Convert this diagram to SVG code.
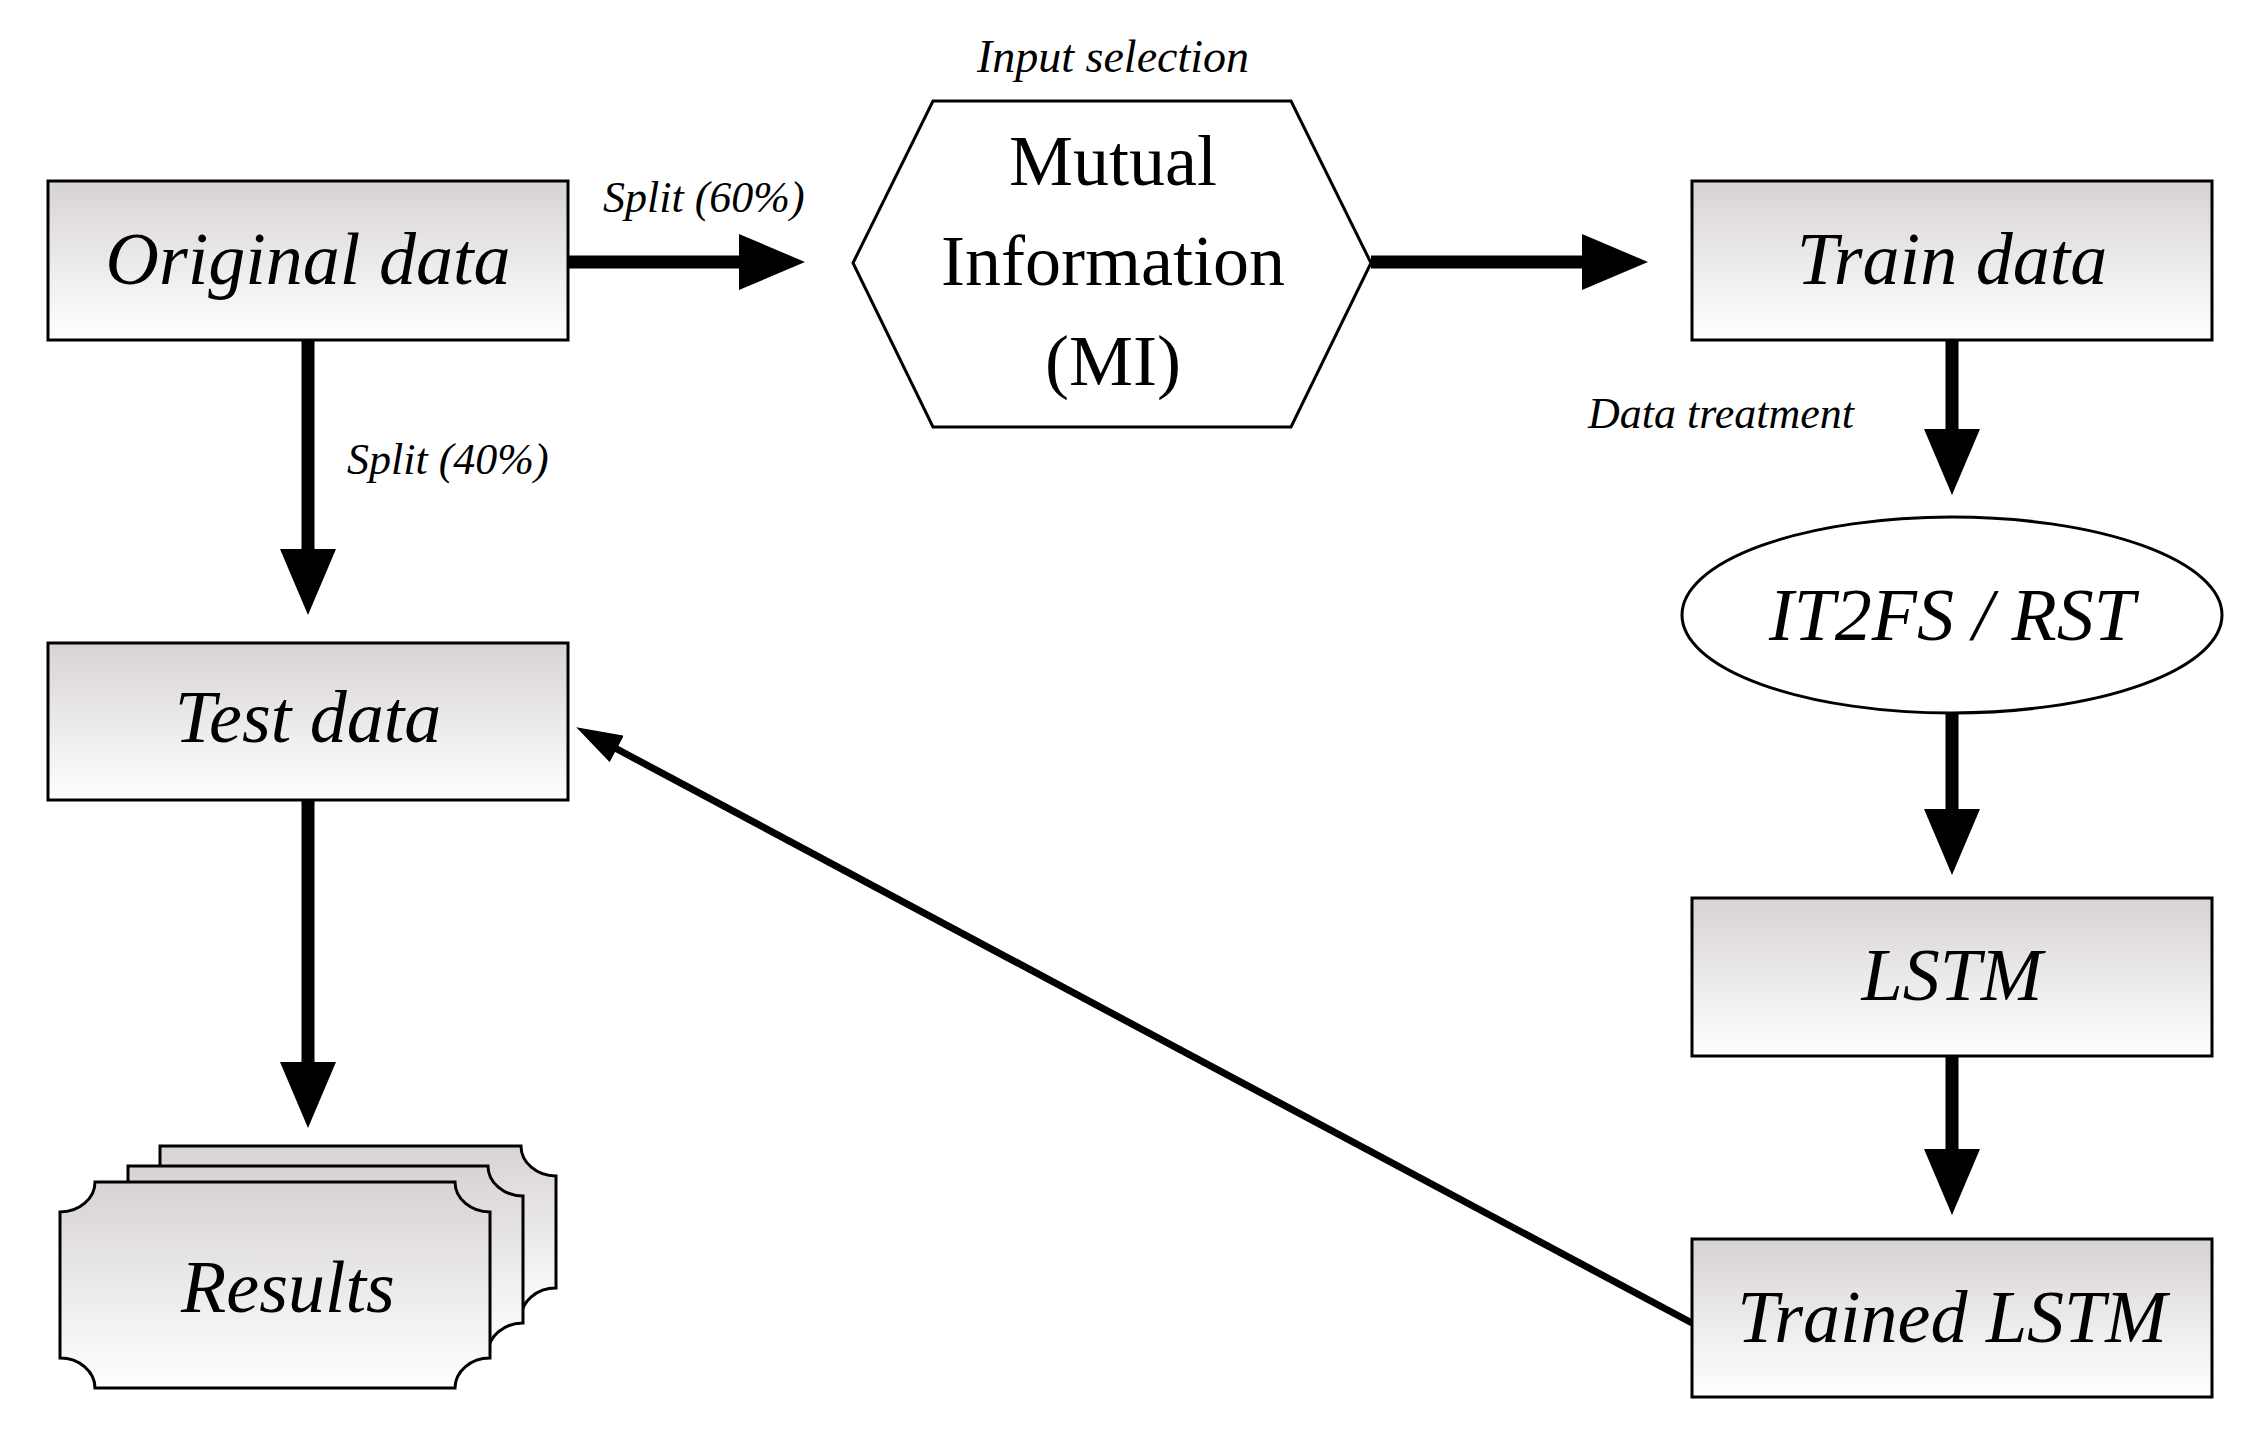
<svg xmlns="http://www.w3.org/2000/svg" width="2256" height="1432" viewBox="0 0 2256 1432">
<defs>
<linearGradient id="g" x1="0" y1="0" x2="0" y2="1"><stop offset="0" stop-color="#d8d3d3"/><stop offset="1" stop-color="#ffffff"/></linearGradient>
<marker id="big" markerUnits="userSpaceOnUse" markerWidth="66" markerHeight="56" refX="2" refY="28" orient="auto"><path d="M0,0 L66,28 L0,56 Z" fill="#000"/></marker>
<marker id="sm" markerUnits="userSpaceOnUse" markerWidth="46" markerHeight="30" refX="2" refY="15" orient="auto"><path d="M0,0 L46,15 L0,30 Z" fill="#000"/></marker>
</defs>
<style>
.box{fill:url(#g);stroke:#000;stroke-width:3}
.t{font-family:"Liberation Serif",serif;font-style:italic;fill:#000;text-anchor:middle}
.n{font-size:74px}
.s{font-size:44px;text-anchor:start}
.c{stroke:#000;stroke-width:13;fill:none;marker-end:url(#big)}
</style>
<rect width="2256" height="1432" fill="#fff"/>
<g id="connectors">
<line class="c" x1="568" y1="262" x2="741" y2="262"/>
<line class="c" x1="1371" y1="262" x2="1584" y2="262"/>
<line class="c" x1="308" y1="340" x2="308" y2="551"/>
<line class="c" x1="308" y1="800" x2="308" y2="1064"/>
<line class="c" x1="1952" y1="340" x2="1952" y2="431"/>
<line class="c" x1="1952" y1="713" x2="1952" y2="811"/>
<line class="c" x1="1952" y1="1056" x2="1952" y2="1151"/>
<line x1="1692" y1="1323" x2="615" y2="748" stroke="#000" stroke-width="7" marker-end="url(#sm)"/>
<text class="t s" x="603" y="212">Split (60%)</text>
<text class="t s" x="347" y="474">Split (40%)</text>
<text class="t s" x="1588" y="428">Data treatment</text>
<text class="t" style="font-size:46px" x="1113" y="72">Input selection</text>
</g>
<g id="original"><rect class="box" x="48" y="181" width="520" height="159"/><text class="t n" x="308" y="284">Original data</text></g>
<g id="mi"><polygon points="853,263 933,101 1291,101 1371,263 1291,427 933,427" fill="#fff" stroke="#000" stroke-width="3"/>
<text class="t" style="font-size:72px;font-style:normal" x="1113" y="185">Mutual</text>
<text class="t" style="font-size:72px;font-style:normal" x="1113" y="285">Information</text>
<text class="t" style="font-size:72px;font-style:normal" x="1113" y="385">(MI)</text></g>
<g id="train"><rect class="box" x="1692" y="181" width="520" height="159"/><text class="t n" x="1952" y="284">Train data</text></g>
<g id="it2fs"><ellipse cx="1952" cy="615" rx="270" ry="98" fill="#fff" stroke="#000" stroke-width="3"/><text class="t n" x="1952" y="640">IT2FS / RST</text></g>
<g id="lstm"><rect class="box" x="1692" y="898" width="520" height="158"/><text class="t n" x="1952" y="1000">LSTM</text></g>
<g id="trained"><rect class="box" x="1692" y="1239" width="520" height="158" stroke-width="4"/><text class="t n" x="1952" y="1342">Trained LSTM</text></g>
<g id="test"><rect class="box" x="48" y="643" width="520" height="157"/><text class="t n" x="308" y="742">Test data</text></g>
<g id="results">
<path class="box" d="M160,1146 H521 A35,30 0 0 0 556,1176 V1288 A35,30 0 0 0 521,1318 H160 Z"/>
<path class="box" d="M128,1166 H488 A35,30 0 0 0 523,1196 V1323 A35,30 0 0 0 488,1353 H128 Z"/>
<path class="box" d="M95,1182 H455 A35,30 0 0 0 490,1212 V1358 A35,30 0 0 0 455,1388 H95 A35,30 0 0 0 60,1358 V1212 A35,30 0 0 0 95,1182 Z"/>
<text class="t n" x="288" y="1312">Results</text>
</g>
</svg>
